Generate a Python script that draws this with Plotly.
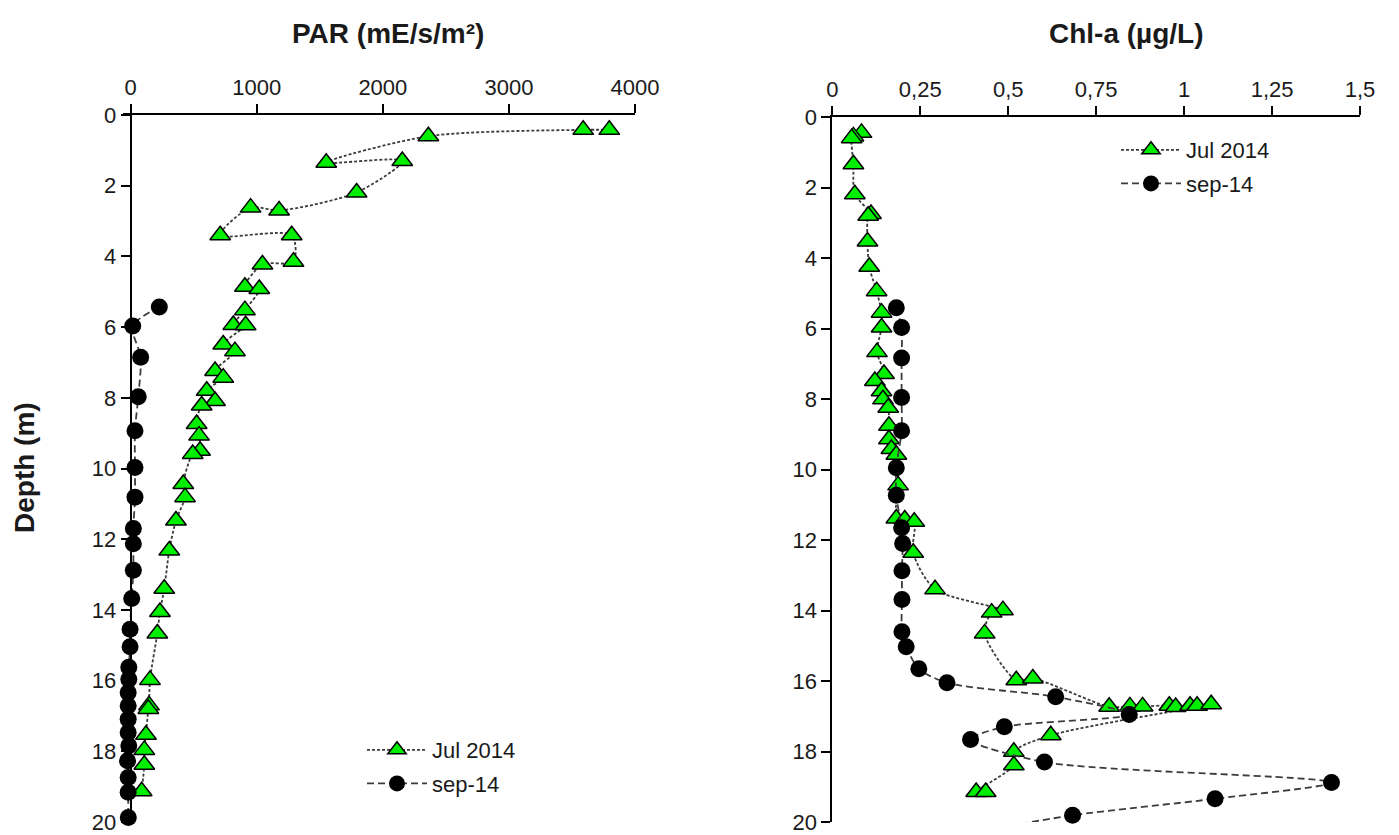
import plotly.graph_objects as go

# ---------------- data ----------------
# PAR, July 2014 (triangles)
par_jul_depth = [0.42, 0.42, 0.6, 1.35, 1.3, 2.19, 2.7, 2.62, 3.4, 3.4, 4.15, 4.23,
                 4.86, 4.92, 5.52, 5.94, 5.95, 6.49, 6.68, 7.24, 7.43, 7.8, 8.09,
                 8.22, 8.74, 9.07, 9.5, 9.59, 10.44, 10.81, 11.47, 12.32, 13.4,
                 14.06, 14.67, 15.98, 16.7, 16.8, 17.53, 17.96, 18.38, 19.13]
par_jul_val = [3796, 3589, 2361, 1551, 2154, 1792, 1177, 951, 710, 1277, 1291, 1045,
               906, 1020, 906, 814, 912, 734, 827, 669, 734, 603, 669,
               563, 523, 542, 550, 492, 417, 431, 359, 306, 266,
               232, 211, 153, 145, 140, 121, 108, 108, 87]

# PAR, September 2014 (circles)
par_sep_depth = [5.43, 5.97, 6.85, 7.97, 8.93, 9.97, 10.81, 11.7, 12.13, 12.88,
                 13.68, 14.55, 15.04, 15.62, 15.96, 16.34, 16.71, 17.09, 17.47,
                 17.84, 18.27, 18.74, 19.16, 19.87]
par_sep_val = [227, 16, 79, 60, 34, 34, 34, 21, 21, 21,
               8, -5, -5, -15, -15, -20, -20, -20, -20,
               -15, -25, -20, -20, -19]

# Chl-a, July 2014 (triangles)
chl_jul_depth = [0.45, 0.55, 0.6, 1.34, 2.19, 2.75, 2.8, 3.53, 4.25, 4.94, 5.55,
                 5.97, 6.67, 7.29, 7.49, 7.78, 8.01, 8.25, 8.76, 9.14, 9.42, 9.58,
                 10.45, 11.39, 11.42, 11.48, 12.36, 13.4, 13.99, 14.06, 14.65,
                 15.98, 15.93, 16.73, 16.72, 16.72, 16.7, 16.74, 16.7, 16.7, 16.66,
                 17.54, 18.01, 18.39, 19.15, 19.15]
chl_jul_val = [0.083, 0.06, 0.055, 0.06, 0.064, 0.11, 0.102, 0.1, 0.105, 0.126, 0.14,
               0.14, 0.127, 0.147, 0.121, 0.14, 0.144, 0.159, 0.161, 0.161, 0.168, 0.182,
               0.187, 0.182, 0.206, 0.233, 0.23, 0.292, 0.485, 0.453, 0.433,
               0.523, 0.57, 0.787, 0.846, 0.882, 0.958, 0.976, 1.017, 1.037, 1.077,
               0.621, 0.516, 0.516, 0.409, 0.436]

# Chl-a, September 2014 (circles)
chl_sep_depth = [5.41, 5.97, 6.84, 7.96, 8.9, 9.95, 10.73, 11.65, 12.1, 12.87, 13.69,
                 14.6, 15.03, 15.65, 16.05, 16.45, 16.95, 17.3, 17.66, 18.3, 18.88,
                 19.34, 19.81, 20.3]
chl_sep_val = [0.182, 0.197, 0.197, 0.197, 0.197, 0.182, 0.182, 0.197, 0.2, 0.198, 0.198,
               0.198, 0.21, 0.246, 0.326, 0.635, 0.844, 0.489, 0.393, 0.603, 1.419,
               1.088, 0.683, 0.40]

par_ticks = [0, 1000, 2000, 3000, 4000]
chl_ticks = [0, 0.25, 0.5, 0.75, 1, 1.25, 1.5]
chl_tick_text = ["0", "0,25", "0,5", "0,75", "1", "1,25", "1,5"]
depth_ticks = list(range(0, 21, 2))

# ---------------- style ----------------
FONT = "Liberation Sans, Arial, sans-serif"
GREEN = "#00EE00"
LINE_COL = "#3c3c3c"
TXT = "#1a1a1a"
W, H = 1399, 835

tri = dict(symbol="triangle-up", size=18, color=GREEN, line=dict(color="black", width=1.5))
dot = dict(symbol="circle", size=17, color="black", line=dict(color="black", width=0))
jul_line = dict(color=LINE_COL, width=1.8, dash="3px,2px", shape="spline", smoothing=0.8)
sep_line = dict(color=LINE_COL, width=1.8, dash="7px,4px", shape="spline", smoothing=0.8)

fig = go.Figure()

fig.add_trace(go.Scatter(x=par_jul_val, y=par_jul_depth, mode="lines+markers", name="Jul 2014",
                         marker=tri, line=jul_line, xaxis="x", yaxis="y", cliponaxis=False,
                         legend="legend", legendgroup="a"))
fig.add_trace(go.Scatter(x=par_sep_val, y=par_sep_depth, mode="lines+markers", name="sep-14",
                         marker=dot, line=sep_line, xaxis="x", yaxis="y", cliponaxis=False,
                         legend="legend", legendgroup="b"))
fig.add_trace(go.Scatter(x=chl_jul_val, y=chl_jul_depth, mode="lines+markers", name="Jul 2014",
                         marker=tri, line=jul_line, xaxis="x2", yaxis="y2", cliponaxis=False,
                         legend="legend2", legendgroup="c"))
fig.add_trace(go.Scatter(x=chl_sep_val, y=chl_sep_depth, mode="lines+markers", name="sep-14",
                         marker=dot, line=sep_line, xaxis="x2", yaxis="y2", cliponaxis=False,
                         legend="legend2", legendgroup="d"))


def px_x(p):
    return p / W


def px_y(p):
    return 1 - p / H


axis_common = dict(showline=True, linecolor="black", linewidth=2, ticks="outside",
                   ticklen=9, tickwidth=2, tickcolor="black", showgrid=False, zeroline=False,
                   tickfont=dict(family=FONT, size=22, color=TXT), automargin=False)

# left panel: x range extended slightly below 0 so near-zero readings stay visible;
# the depth axis line is placed exactly at PAR = 0
L0, L1 = 130.7, 635.0
PAR_MIN, PAR_MAX = -60, 4000
ppu = (L1 - L0) / PAR_MAX
left_start = L0 + PAR_MIN * ppu

fig.update_layout(
    width=W, height=H, margin=dict(l=0, r=0, t=0, b=0),
    paper_bgcolor="white", plot_bgcolor="white",
    showlegend=True,
    xaxis=dict(domain=[px_x(left_start), px_x(L1)], range=[PAR_MIN, PAR_MAX], side="top",
               anchor="y", tickvals=par_ticks, **axis_common),
    yaxis=dict(domain=[px_y(822), px_y(115)], range=[20, 0], anchor="free",
               position=px_x(L0), tickvals=depth_ticks, **axis_common),
    xaxis2=dict(domain=[px_x(832.3), px_x(1360)], range=[0, 1.5], side="top", anchor="y2",
                tickvals=chl_ticks, ticktext=chl_tick_text, **axis_common),
    yaxis2=dict(domain=[px_y(822), px_y(117)], range=[20, 0], anchor="x2",
                tickvals=depth_ticks, **axis_common),
    legend=dict(x=px_x(362), y=px_y(729), xanchor="left", yanchor="top",
                font=dict(family=FONT, size=22, color=TXT), bgcolor="rgba(0,0,0,0)",
                itemwidth=60, traceorder="grouped", tracegroupgap=2),
    legend2=dict(x=px_x(1116), y=px_y(129), xanchor="left", yanchor="top",
                 font=dict(family=FONT, size=22, color=TXT), bgcolor="rgba(0,0,0,0)",
                 itemwidth=60, traceorder="grouped", tracegroupgap=2),
    annotations=[
        dict(text="PAR (mE/s/m²)", x=px_x(388), y=px_y(33), xref="paper", yref="paper",
             showarrow=False, xanchor="center", yanchor="middle",
             font=dict(family=FONT, size=28, color=TXT, weight="bold")),
        dict(text="Chl-a (µg/L)", x=px_x(1126), y=px_y(33), xref="paper", yref="paper",
             showarrow=False, xanchor="center", yanchor="middle",
             font=dict(family=FONT, size=28, color=TXT, weight="bold")),
        dict(text="Depth (m)", x=px_x(24), y=px_y(468), xref="paper", yref="paper",
             showarrow=False, xanchor="center", yanchor="middle", textangle=-90,
             font=dict(family=FONT, size=28, color=TXT, weight="bold")),
    ],
)

fig.write_html("out.html")
